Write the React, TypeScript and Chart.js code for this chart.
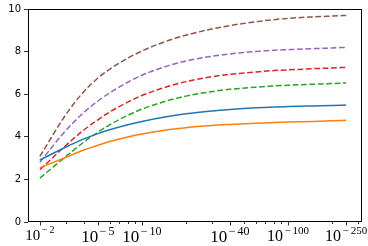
import React, { useEffect, useRef } from 'react';
import { Chart, registerables } from 'chart.js';

Chart.register(...registerables);

// x values: n where the tolerance is 10^-n
const nValues = [2, 3, 4, 5, 6, 8, 10, 15, 20, 30, 40, 60, 80, 100, 150, 200, 250];
const blueValues = [2.91, 3.51, 3.9, 4.15, 4.33, 4.57, 4.72, 4.95, 5.08, 5.21, 5.28, 5.36, 5.4, 5.42, 5.45, 5.47, 5.49];
const orangeValues = [2.54, 3.03, 3.38, 3.6, 3.78, 3.99, 4.13, 4.33, 4.43, 4.53, 4.58, 4.64, 4.67, 4.69, 4.72, 4.75, 4.78];
const greenValues = [2.06, 3.06, 3.75, 4.22, 4.56, 5.01, 5.3, 5.7, 5.91, 6.12, 6.23, 6.33, 6.39, 6.42, 6.47, 6.5, 6.53];
const redValues = [2.45, 3.58, 4.32, 4.8, 5.16, 5.63, 5.94, 6.36, 6.59, 6.82, 6.93, 7.04, 7.11, 7.14, 7.2, 7.23, 7.26];
const purpleValues = [2.8, 4.28, 5.14, 5.68, 6.06, 6.56, 6.89, 7.33, 7.56, 7.78, 7.89, 8.0, 8.06, 8.09, 8.14, 8.17, 8.2];
const brownValues = [3.08, 5.02, 6.12, 6.76, 7.17, 7.69, 8.03, 8.51, 8.77, 9.06, 9.22, 9.4, 9.5, 9.56, 9.63, 9.67, 9.7];

const xTickValues = [2, 5, 10, 40, 100, 250];
const xTickExponents = ['2', '5', '10', '40', '100', '250'];
const xTickBaseSizes = [15, 17, 17, 17, 16, 16];
const xMinorTicks = [3, 4, 6, 7, 8, 9, 20, 30, 50, 60, 70, 80, 90, 200, 300];
const yTickValues = [0, 2, 4, 6, 8, 10];

const SERIF = '"Liberation Serif"';

const framePlugin = {
  id: 'frameAndTicks',
  afterDraw(chart: any) {
    const { ctx, chartArea } = chart;
    const xs = chart.scales.x;
    const l = Math.round(chartArea.left) + 0.5;
    const t = Math.round(chartArea.top) + 0.5;
    const r = Math.round(chartArea.right) - 0.5;
    const b = Math.round(chartArea.bottom) - 0.5;
    ctx.save();
    ctx.strokeStyle = '#000';
    ctx.lineWidth = 1;
    ctx.strokeRect(l, t, r - l, b - t);
    // x ticks
    ctx.lineWidth = 0.8;
    ctx.beginPath();
    xTickValues.forEach((v) => {
      const px = Math.round(xs.getPixelForValue(v)) + 0.5;
      ctx.moveTo(px, b);
      ctx.lineTo(px, b + 4);
    });
    xMinorTicks.forEach((v) => {
      const px = xs.getPixelForValue(v);
      if (px < chartArea.left || px > chartArea.right) return;
      const p = Math.round(px) + 0.5;
      ctx.moveTo(p, b);
      ctx.lineTo(p, b + 2.5);
    });
    ctx.stroke();
    // x tick labels 10^{-n}
    ctx.fillStyle = '#000';
    ctx.textBaseline = 'alphabetic';
    xTickValues.forEach((v, i) => {
      const base = xTickBaseSizes[i];
      const sup = Math.round(base * 0.68);
      const px = xs.getPixelForValue(v);
      ctx.font = `${base}px ${SERIF}`;
      const wb = ctx.measureText('10').width;
      ctx.font = `${sup}px ${SERIF}`;
      const wm = ctx.measureText('−').width + 2.5;
      const wd = ctx.measureText(xTickExponents[i]).width;
      const total = wb + 1 + wm + wd;
      const x0 = px - total / 2;
      const baseline = b + 4 + base * 0.95;
      ctx.font = `${base}px ${SERIF}`;
      ctx.fillText('10', x0, baseline);
      ctx.font = `${sup}px ${SERIF}`;
      const sb = baseline - base * 0.42;
      ctx.fillText('−', x0 + wb + 1.5, sb);
      ctx.fillText(xTickExponents[i], x0 + wb + 1 + wm, sb);
    });
    ctx.restore();
  },
};

const series = [
  { values: blueValues, color: '#1f77b4', dash: [] as number[] },
  { values: orangeValues, color: '#ff7f0e', dash: [] as number[] },
  { values: greenValues, color: '#2ca02c', dash: [5.8, 2.6] },
  { values: redValues, color: '#d62728', dash: [5.8, 2.6] },
  { values: purpleValues, color: '#9467bd', dash: [5.8, 2.6] },
  { values: brownValues, color: '#8c564b', dash: [5.8, 2.6] },
];

export default function App() {
  const canvasRef = useRef<HTMLCanvasElement | null>(null);

  useEffect(() => {
    document.body.style.margin = '0';
    const canvas = canvasRef.current;
    if (!canvas) return;
    const chart = new Chart(canvas, {
      type: 'line',
      data: {
        datasets: series.map((s) => ({
          data: nValues.map((n, i) => ({ x: n, y: s.values[i] })),
          borderColor: s.color,
          backgroundColor: s.color,
          borderDash: s.dash,
          borderWidth: 1.5,
          pointRadius: 0,
          cubicInterpolationMode: 'monotone' as const,
          fill: false,
        })),
      },
      options: {
        animation: false,
        responsive: true,
        maintainAspectRatio: false,
        layout: { padding: { top: 7, right: 6, left: 0, bottom: 0 } },
        plugins: { legend: { display: false }, tooltip: { enabled: false } },
        scales: {
          x: {
            type: 'logarithmic',
            min: 1.66,
            max: 321,
            afterBuildTicks: (scale: any) => {
              scale.ticks = xTickValues.map((v) => ({ value: v }));
            },
            afterFit: (scale: any) => {
              scale.height = 24;
            },
            ticks: { display: false },
            grid: { display: false },
            border: { display: false },
          },
          y: {
            type: 'linear',
            min: 0,
            max: 10,
            afterBuildTicks: (scale: any) => {
              scale.ticks = yTickValues.map((v) => ({ value: v }));
            },
            afterFit: (scale: any) => {
              scale.width = 28;
            },
            ticks: {
              color: '#000',
              font: { family: '"DejaVu Sans"', size: 10 },
              padding: 3,
            },
            grid: {
              drawOnChartArea: false,
              drawTicks: true,
              tickLength: 4,
              tickColor: '#000',
              tickWidth: 0.8,
            },
            border: { display: false },
          },
        },
      },
      plugins: [framePlugin],
    });
    return () => chart.destroy();
  }, []);

  return (
    <div style={{ position: 'relative', width: 368, height: 246 }}>
      <canvas ref={canvasRef} />
    </div>
  );
}
